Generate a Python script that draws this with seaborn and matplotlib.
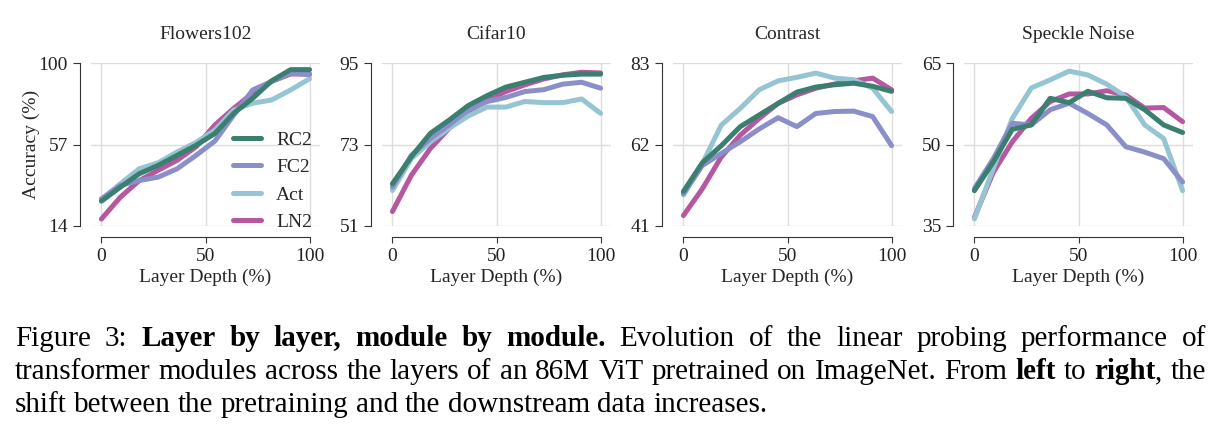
import numpy as np
import pandas as pd
import seaborn as sns
import matplotlib.pyplot as plt

# layer depth (%) for the 12 ViT blocks
depth = [0, 9.1, 18.2, 27.3, 36.4, 45.5, 54.5, 63.6, 72.7, 81.8, 90.9, 100]

datasets = ['Flowers102', 'Cifar10', 'Contrast', 'Speckle Noise']
modules = ['RC2', 'FC2', 'Act', 'LN2']
yticks = {'Flowers102': [14, 57, 100], 'Cifar10': [51, 73, 95],
          'Contrast': [41, 62, 83], 'Speckle Noise': [35, 50, 65]}

flowers_rc2 = [27.1, 34.5, 41.6, 46.0, 51.3, 56.6, 62.8, 73.5, 81.4, 90.6, 96.5, 96.5]
flowers_fc2 = [28.3, 35.4, 38.0, 39.8, 44.2, 51.3, 58.8, 72.6, 85.8, 90.3, 94.7, 93.8]
flowers_act = [28.0, 36.3, 44.2, 47.4, 53.1, 58.1, 64.6, 75.2, 78.8, 80.5, 85.8, 91.7]
flowers_ln2 = [17.7, 29.2, 38.0, 43.4, 48.7, 55.8, 67.3, 76.1, 84.1, 90.3, 94.2, 94.2]

cifar_rc2 = [62.4, 69.7, 76.0, 79.6, 83.5, 86.2, 88.5, 89.8, 91.1, 91.7, 92.0, 92.0]
cifar_fc2 = [61.5, 70.1, 74.6, 78.3, 82.3, 84.6, 85.7, 87.3, 87.8, 89.3, 89.8, 88.2]
cifar_act = [60.6, 69.2, 73.7, 77.4, 80.7, 83.1, 83.1, 84.6, 84.3, 84.3, 85.3, 81.4]
cifar_ln2 = [54.9, 64.7, 71.9, 77.4, 81.9, 85.0, 87.3, 89.1, 90.7, 91.8, 92.5, 92.3]

contrast_rc2 = [49.9, 57.3, 61.7, 66.6, 69.6, 72.6, 75.5, 76.8, 77.4, 77.8, 77.0, 75.7]
contrast_fc2 = [49.3, 56.6, 59.7, 62.7, 66.0, 68.9, 66.6, 70.0, 70.5, 70.6, 69.2, 61.7]
contrast_act = [49.0, 57.1, 67.0, 71.3, 76.1, 78.4, 79.3, 80.4, 79.1, 78.7, 76.5, 70.5]
contrast_ln2 = [43.7, 50.6, 58.8, 64.4, 68.7, 72.6, 74.8, 76.5, 77.6, 78.4, 79.1, 76.1]

speckle_rc2 = [41.5, 46.8, 52.8, 53.6, 58.5, 57.7, 59.8, 58.6, 58.5, 56.4, 53.6, 52.2]
speckle_fc2 = [41.9, 47.4, 53.9, 53.6, 56.4, 57.6, 55.7, 53.6, 49.6, 48.6, 47.4, 43.1]
speckle_act = [36.3, 45.6, 54.8, 60.4, 61.9, 63.5, 62.8, 61.1, 58.8, 53.6, 51.1, 41.5]
speckle_ln2 = [36.6, 44.9, 50.5, 54.8, 57.9, 59.3, 59.3, 59.9, 59.1, 56.7, 56.8, 54.2]

results = {
    'Flowers102': [flowers_rc2, flowers_fc2, flowers_act, flowers_ln2],
    'Cifar10': [cifar_rc2, cifar_fc2, cifar_act, cifar_ln2],
    'Contrast': [contrast_rc2, contrast_fc2, contrast_act, contrast_ln2],
    'Speckle Noise': [speckle_rc2, speckle_fc2, speckle_act, speckle_ln2],
}

palette = {'RC2': '#3b7f70', 'FC2': '#8a8fca', 'Act': '#95c4d3', 'LN2': '#b6579f'}

rows = []
for ds in datasets:
    for mod, vals in zip(modules, results[ds]):
        for d, v in zip(depth, vals):
            rows.append({'dataset': ds, 'module': mod, 'depth': d, 'acc': v})
df = pd.DataFrame(rows)

sns.set_style('ticks', {'axes.grid': True, 'grid.color': '#dddddd',
                        'axes.edgecolor': '#333333'})
plt.rcParams['font.family'] = 'serif'
plt.rcParams['font.serif'] = ['Liberation Serif', 'DejaVu Serif']
plt.rcParams['xtick.major.size'] = 4
plt.rcParams['ytick.major.size'] = 5
plt.rcParams['xtick.color'] = '#333333'
plt.rcParams['ytick.color'] = '#333333'
plt.rcParams['xtick.labelcolor'] = '#222222'
plt.rcParams['ytick.labelcolor'] = '#222222'

fs = 14
fig = plt.figure(figsize=(12.19, 4.34), dpi=100)
W, H = 1219, 434

draw_order = ['LN2', 'Act', 'FC2', 'RC2']
for i, ds in enumerate(datasets):
    left = (91 + i * 291) / W
    ax = fig.add_axes([left, (H - 226) / H, 229 / W, 163 / H])
    sns.lineplot(data=df[df['dataset'] == ds], x='depth', y='acc', hue='module',
                 hue_order=draw_order, palette=palette, linewidth=3.6, ax=ax,
                 legend=(i == 0))
    ax.set_ylim(yticks[ds][0], yticks[ds][-1])
    ax.set_yticks(yticks[ds])
    ax.set_xticks([0, 50, 100])
    ax.tick_params(labelsize=fs)
    ax.grid(True, color='#dddddd', linewidth=1)
    ax.set_title(ds, fontsize=fs, pad=17)
    ax.set_xlabel('Layer Depth (%)', fontsize=fs, labelpad=3)
    if i == 0:
        ax.set_ylabel('Accuracy (%)', fontsize=fs, labelpad=-1)
        handles, labels = ax.get_legend_handles_labels()
        ax.legend(handles[::-1], labels[::-1], loc='lower right', frameon=False,
                  fontsize=fs, handlelength=1.45, labelspacing=0.5,
                  borderaxespad=0.0, borderpad=0.0, handletextpad=0.75,
                  bbox_to_anchor=(0.965, -0.03))
    else:
        ax.set_ylabel('')
    sns.despine(ax=ax, offset=8, trim=True)

# caption below the figure, drawn word by word so bold runs and justification work
caption = [
    [('Figure 3:', 'normal', False), ('Layer by layer, module by module.', 'bold', True),
     ('Evolution of the linear probing performance of', 'normal', True)],
    [('transformer modules across the layers of an 86M ViT pretrained on ImageNet. From', 'normal', False),
     ('left', 'bold', True), ('to', 'normal', True), ('right', 'bold', True),
     (', the', 'normal', False)],
    [('shift between the pretraining and the downstream data increases.', 'normal', False)],
]
baselines = [346, 379, 412]
justify = [True, True, False]
cap_size = 21
x_left, x_right = 15, 1206

fig.canvas.draw()
renderer = fig.canvas.get_renderer()
for line, base, just in zip(caption, baselines, justify):
    tokens = []
    for text, weight, space_first in line:
        words = text.split(' ')
        for k, w in enumerate(words):
            sp = space_first if k == 0 else True
            tokens.append((w, weight, sp))
    artists = []
    widths = []
    for w, weight, sp in tokens:
        t = fig.text(0, 1 - base / H, w, fontsize=cap_size, fontweight=weight,
                     va='baseline', ha='left', color='black')
        artists.append(t)
        widths.append(t.get_window_extent(renderer).width)
    n_gaps = sum(1 for tok in tokens[1:] if tok[2])
    if just and n_gaps:
        gap = (x_right - x_left - sum(widths)) / n_gaps
    else:
        gap = cap_size * 100 / 72 * 0.25
    x = x_left
    for (w, weight, sp), t, wd in zip(tokens, artists, widths):
        if sp and t is not artists[0]:
            x += gap
        t.set_x(x / W)
        x += wd

fig.savefig('out.png', dpi=100)
